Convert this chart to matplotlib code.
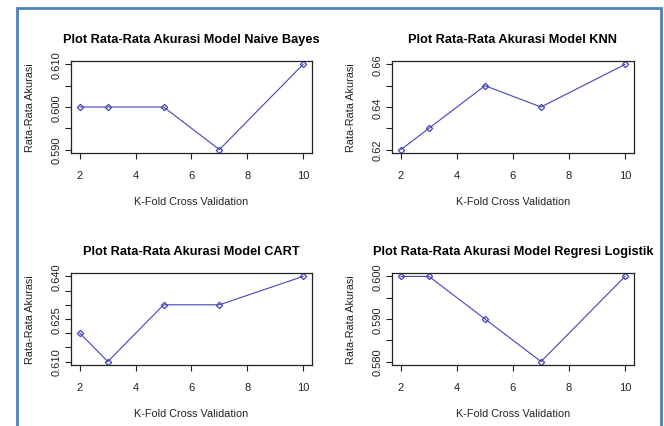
import numpy as np
import matplotlib
matplotlib.use('Agg')
import matplotlib.pyplot as plt
from matplotlib.patches import Rectangle

plt.rcParams['font.family'] = ['Liberation Sans', 'DejaVu Sans']

k_fold = [2, 3, 5, 7, 10]
acc_nb = [0.60, 0.60, 0.60, 0.59, 0.61]
acc_knn = [0.62, 0.63, 0.65, 0.64, 0.66]
acc_cart = [0.62, 0.61, 0.63, 0.63, 0.64]
acc_lr = [0.60, 0.60, 0.59, 0.58, 0.60]

titles = ['Plot Rata-Rata Akurasi Model Naive Bayes',
          'Plot Rata-Rata Akurasi Model KNN',
          'Plot Rata-Rata Akurasi Model CART',
          'Plot Rata-Rata Akurasi Model Regresi Logistik']
series = [acc_nb, acc_knn, acc_cart, acc_lr]
yticks = [np.arange(0.590, 0.6101, 0.005), np.arange(0.62, 0.6601, 0.01),
          np.arange(0.610, 0.6401, 0.005), np.arange(0.580, 0.6001, 0.005)]
ylabels = [['0.590', '', '0.600', '', '0.610'],
           ['0.62', '', '0.64', '', '0.66'],
           ['0.610', '', '', '0.625', '', '', '0.640'],
           ['0.580', '', '0.590', '', '0.600']]

W, H = 664, 427
fig = plt.figure(figsize=(W / 100, H / 100), dpi=100)

# plot-region boxes in pixels: left, right, top, bottom
boxes = [(71, 312, 62, 154), (392, 634, 62, 154),
         (71, 312, 274, 366), (392, 634, 274, 366)]

line_col = '#4444b8'
for (l, r, t, b), title, y, ytk, ylab in zip(boxes, titles, series, yticks, ylabels):
    ax = fig.add_axes([l / W, 1 - b / H, (r - l) / W, (b - t) / H])
    ax.plot(k_fold, y, color=line_col, lw=0.8, marker='D', ms=3.2,
            mfc='none', mec=line_col, mew=0.9)
    ymin, ymax = min(y), max(y)
    pad = (ymax - ymin) * 0.04
    ax.set_ylim(ymin - pad, ymax + pad)
    ax.set_xlim(2 - 8 * 0.04, 10 + 8 * 0.04)
    ax.set_xticks([2, 4, 6, 8, 10])
    ax.set_yticks(ytk)
    ax.set_yticklabels(ylab, rotation=90, va='center')
    ax.tick_params(direction='out', length=4, width=0.8, labelsize=8,
                   colors='#222222', pad=3)
    ax.tick_params(axis='x', pad=8)
    for s in ax.spines.values():
        s.set_linewidth(0.9)
        s.set_color('#222222')
    ax.set_title(title, fontsize=9.2, fontweight='bold', pad=14)
    ax.set_xlabel('K-Fold Cross Validation', fontsize=7.8, labelpad=12, color='#222222')
    ax.set_ylabel('Rata-Rata Akurasi', fontsize=7.8, labelpad=12, color='#222222')

# blue frame around the figure
fig.patches.append(Rectangle((16.7 / W, -0.02), (660.5 - 16.7) / W, 1.02 - 9 / H,
                             transform=fig.transFigure, fill=False,
                             edgecolor='#4f81bd', lw=2))

fig.savefig('out.png', dpi=100)
